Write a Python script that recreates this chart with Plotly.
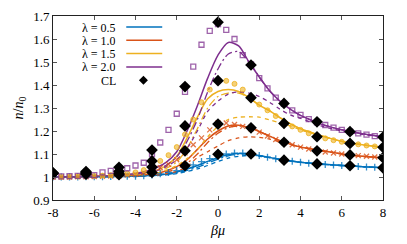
import plotly.graph_objects as go

# ---------------- data ----------------
lambdas = ["0.5", "1.0", "1.5", "2.0"]
colors = ["#0072BD", "#D95319", "#EDB120", "#7E2F8E"]

# theory curves
x_th = [-8, -7, -6, -5, -4, -3.5, -3, -2.5, -2, -1.5, -1, -0.5, 0, 0.5, 1, 1.5, 2, 2.5, 3, 3.5, 4, 5, 6, 7, 8]

solid_05 = [1.0, 1.0, 1.001, 1.002, 1.004, 1.006, 1.008, 1.013, 1.022, 1.035, 1.05, 1.068, 1.085, 1.097, 1.102, 1.1, 1.093, 1.085, 1.077, 1.07, 1.064, 1.056, 1.05, 1.045, 1.04]
dashdot_05 = [1.0, 1.0, 1.0, 1.001, 1.003, 1.005, 1.007, 1.011, 1.018, 1.029, 1.042, 1.06, 1.078, 1.092, 1.1, 1.1, 1.093, 1.085, 1.077, 1.07, 1.064, 1.056, 1.05, 1.045, 1.04]
dash_05 = [1.0, 1.0, 1.0, 1.001, 1.002, 1.004, 1.006, 1.009, 1.015, 1.024, 1.035, 1.05, 1.068, 1.082, 1.09, 1.094, 1.09, 1.084, 1.077, 1.07, 1.064, 1.056, 1.05, 1.045, 1.04]

solid_10 = [1.0, 1.001, 1.002, 1.004, 1.008, 1.011, 1.015, 1.027, 1.045, 1.075, 1.12, 1.165, 1.2, 1.222, 1.225, 1.215, 1.198, 1.178, 1.158, 1.143, 1.13, 1.115, 1.1, 1.09, 1.084]
dashdot_10 = [1.0, 1.0, 1.001, 1.003, 1.006, 1.009, 1.012, 1.021, 1.035, 1.06, 1.1, 1.15, 1.19, 1.215, 1.222, 1.215, 1.198, 1.178, 1.158, 1.143, 1.13, 1.115, 1.1, 1.09, 1.084]
dash_10 = [1.0, 1.0, 1.001, 1.002, 1.004, 1.006, 1.008, 1.015, 1.025, 1.045, 1.085, 1.11, 1.135, 1.158, 1.17, 1.175, 1.172, 1.165, 1.152, 1.142, 1.13, 1.115, 1.1, 1.09, 1.084]

solid_15 = [1.0, 1.001, 1.003, 1.006, 1.012, 1.018, 1.028, 1.05, 1.09, 1.17, 1.26, 1.34, 1.372, 1.38, 1.372, 1.345, 1.312, 1.288, 1.258, 1.232, 1.21, 1.18, 1.155, 1.14, 1.129]
dashdot_15 = [1.0, 1.0, 1.002, 1.004, 1.009, 1.014, 1.022, 1.038, 1.065, 1.125, 1.21, 1.3, 1.35, 1.365, 1.365, 1.345, 1.312, 1.288, 1.258, 1.232, 1.21, 1.18, 1.155, 1.14, 1.129]
dash_15 = [1.0, 1.0, 1.001, 1.003, 1.006, 1.009, 1.015, 1.03, 1.05, 1.08, 1.12, 1.175, 1.22, 1.25, 1.26, 1.262, 1.26, 1.248, 1.235, 1.222, 1.205, 1.178, 1.155, 1.14, 1.129]

solid_20 = [1.0, 1.001, 1.003, 1.007, 1.015, 1.025, 1.04, 1.065, 1.11, 1.2, 1.31, 1.43, 1.53, 1.585, 1.57, 1.5, 1.435, 1.375, 1.33, 1.295, 1.268, 1.23, 1.205, 1.188, 1.175]
dashdot_20 = [1.0, 1.001, 1.002, 1.005, 1.012, 1.02, 1.032, 1.052, 1.088, 1.155, 1.25, 1.37, 1.47, 1.535, 1.545, 1.5, 1.435, 1.375, 1.33, 1.295, 1.268, 1.23, 1.205, 1.188, 1.175]
dash_20 = [1.0, 1.0, 1.002, 1.004, 1.01, 1.016, 1.026, 1.045, 1.075, 1.125, 1.2, 1.285, 1.33, 1.36, 1.37, 1.365, 1.35, 1.325, 1.295, 1.27, 1.255, 1.222, 1.2, 1.185, 1.175]

# simulation points
x_sim = [-8.0, -7.6, -7.2, -6.8, -6.4, -6.0, -5.6, -5.2, -4.8, -4.4, -4.0, -3.6, -3.2, -2.8, -2.4,
         -2.0, -1.6, -1.2, -0.8, -0.4, 0.0, 0.4, 0.8, 1.2, 1.6, 2.0, 2.4, 2.8, 3.2, 3.6,
         4.0, 4.4, 4.8, 5.2, 5.6, 6.0, 6.4, 6.8, 7.2, 7.6, 8.0]
sim_05 = [1.0, 1.0, 1.0, 1.0, 1.001, 1.001, 1.001, 1.002, 1.002, 1.003, 1.003, 1.005, 1.009, 1.014, 1.02,
          1.028, 1.04, 1.053, 1.067, 1.08, 1.092, 1.1, 1.104, 1.104, 1.1, 1.093, 1.086, 1.079, 1.073, 1.068,
          1.064, 1.06, 1.057, 1.054, 1.052, 1.05, 1.048, 1.046, 1.044, 1.042, 1.04]
sim_10 = [1.0, 1.0, 1.0, 1.001, 1.001, 1.002, 1.003, 1.004, 1.005, 1.008, 1.012, 1.018, 1.027, 1.04, 1.055,
          1.075, 1.105, 1.14, 1.17, 1.205, 1.235, 1.235, 1.228, 1.22, 1.21, 1.195, 1.178, 1.163, 1.15, 1.14,
          1.13, 1.122, 1.115, 1.109, 1.104, 1.1, 1.096, 1.093, 1.09, 1.087, 1.084]
sim_15 = [1.0, 1.0, 1.001, 1.002, 1.003, 1.004, 1.006, 1.008, 1.011, 1.015, 1.02, 1.03, 1.045, 1.07, 1.095,
          1.13, 1.185, 1.25, 1.325, 1.38, 1.415, 1.418, 1.405, 1.38, 1.345, 1.315, 1.29, 1.265, 1.24, 1.22,
          1.205, 1.19, 1.177, 1.168, 1.16, 1.153, 1.147, 1.142, 1.137, 1.133, 1.129]
sim_20 = [1.003, 1.003, 1.004, 1.005, 1.006, 1.008, 1.02, 1.027, 1.032, 1.038, 1.05, 1.062, 1.1, 1.15, 1.205,
          1.275, 1.37, 1.48, 1.575, 1.635, 1.665, 1.64, 1.6, 1.53, 1.49, 1.43, 1.385, 1.345, 1.318, 1.29,
          1.27, 1.252, 1.238, 1.226, 1.215, 1.205, 1.197, 1.19, 1.184, 1.178, 1.173]

# classical limit (CL)
x_cl = [-8.0, -6.4, -4.8, -3.2, -1.6, 0.0, 1.6, 3.2, 4.8, 6.4, 8.0]
cl_05 = [1.015, 1.012, 1.01, 1.02, 1.049, 1.099, 1.100, 1.073, 1.057, 1.049, 1.040]
cl_10 = [1.016, 1.016, 1.016, 1.043, 1.114, 1.230, 1.214, 1.151, 1.114, 1.096, 1.084]
cl_15 = [1.017, 1.02, 1.025, 1.07, 1.222, 1.419, 1.345, 1.233, 1.175, 1.146, 1.129]
cl_20 = [1.018, 1.024, 1.042, 1.117, 1.393, 1.673, 1.487, 1.320, 1.240, 1.197, 1.173]

x_ticks = [-8, -6, -4, -2, 0, 2, 4, 6, 8]
y_ticks = [0.9, 1.0, 1.1, 1.2, 1.3, 1.4, 1.5, 1.6, 1.7]
y_tick_labels = ["0.9", "1", "1.1", "1.2", "1.3", "1.4", "1.5", "1.6", "1.7"]

# ---------------- figure ----------------
solids = [solid_05, solid_10, solid_15, solid_20]
dashdots = [dashdot_05, dashdot_10, dashdot_15, dashdot_20]
dashes = [dash_05, dash_10, dash_15, dash_20]
sims = [sim_05, sim_10, sim_15, sim_20]
cls = [cl_05, cl_10, cl_15, cl_20]
sim_symbols = ["cross-thin-open", "x-thin-open", "circle", "square-open"]

fig = go.Figure()

for i in range(4):
    c = colors[i]
    fig.add_trace(go.Scatter(x=x_th, y=dashes[i], mode="lines", line=dict(color=c, width=1.3, dash="4px,4px", shape="spline", smoothing=0.8), showlegend=False))
    fig.add_trace(go.Scatter(x=x_th, y=dashdots[i], mode="lines", line=dict(color=c, width=1.3, dash="8px,3px,2px,3px", shape="spline", smoothing=0.8), showlegend=False))
    fig.add_trace(go.Scatter(x=x_th, y=solids[i], mode="lines", line=dict(color=c, width=1.5, shape="spline", smoothing=0.8), showlegend=False))

for i in range(4):
    c = colors[i]
    sym = sim_symbols[i]
    if sym == "circle":
        mk = dict(symbol=sym, size=5, color="rgba(237,177,32,0.6)", line=dict(color=c, width=0.8))
    elif sym == "square-open":
        mk = dict(symbol=sym, size=5, color="rgba(126,47,142,0.75)", line=dict(width=1.3))
    else:
        mk = dict(symbol=sym, size=5, color=c, opacity=0.8, line=dict(color=c, width=1.3))
    fig.add_trace(go.Scatter(x=x_sim, y=sims[i], mode="markers", marker=mk, showlegend=False))

for i in range(4):
    fig.add_trace(go.Scatter(x=x_cl, y=cls[i], mode="markers",
                             marker=dict(symbol="diamond", size=9, color="black"), showlegend=False))

# ---------------- legend (text left, sample right) ----------------
legend_rows = [0.940, 0.868, 0.796, 0.723]
font_family = "Liberation Serif"
for i in range(4):
    fig.add_annotation(xref="paper", yref="paper", x=0.198, y=legend_rows[i], text="λ = " + lambdas[i],
                       showarrow=False, xanchor="right", yanchor="middle", height=13,
                       font=dict(family=font_family, size=12, color="black"))
    fig.add_shape(type="line", xref="paper", yref="paper", x0=0.222, x1=0.331,
                  y0=legend_rows[i], y1=legend_rows[i], line=dict(color=colors[i], width=1.5))
cl_row = 0.651
fig.add_annotation(xref="paper", yref="paper", x=0.198, y=cl_row, text="CL", showarrow=False,
                   xanchor="right", yanchor="middle", height=13,
                   font=dict(family=font_family, size=12, color="black"))
dx, dy = 0.0136, 0.0244
cx = 0.274
fig.add_shape(type="path", xref="paper", yref="paper",
              path=f"M {cx-dx} {cl_row} L {cx} {cl_row+dy} L {cx+dx} {cl_row} L {cx} {cl_row-dy} Z",
              fillcolor="black", line=dict(color="black", width=0))

axis_common = dict(showgrid=False, zeroline=False, showline=True, linecolor="#222", linewidth=1,
                   mirror="allticks", ticks="inside", ticklen=4, tickcolor="#555",
                   tickfont=dict(family=font_family, size=13, color="black"))

fig.update_xaxes(range=[-8, 8], tickvals=x_ticks, ticktext=[str(v) for v in x_ticks], automargin=False,
                 title=dict(text="<i>βμ</i>", font=dict(family=font_family, size=14, color="black"), standoff=6),
                 **axis_common)
fig.update_yaxes(range=[0.9, 1.7], tickvals=y_ticks, ticktext=y_tick_labels, automargin=False,
                 title=dict(text="<i>n</i>/<i>n</i><sub>0</sub>", font=dict(family=font_family, size=14, color="black"), standoff=6),
                 **axis_common)

fig.update_layout(width=407, height=244, margin=dict(l=53, r=24, t=16, b=44),
                  plot_bgcolor="white", paper_bgcolor="white", showlegend=False)

fig.write_html("out.html", config={"displayModeBar": False},
               post_script="document.body.style.margin='0px';document.body.style.padding='0px';")
